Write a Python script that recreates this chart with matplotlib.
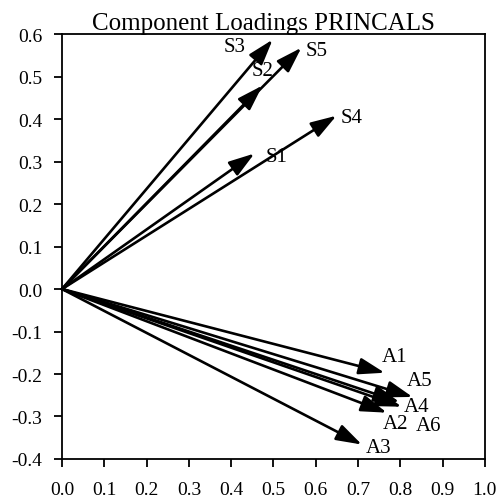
import numpy as np
import matplotlib.pyplot as plt

# component loadings (dimension 1, dimension 2)
names = ['S1', 'S2', 'S3', 'S4', 'S5', 'A1', 'A2', 'A3', 'A4', 'A5', 'A6']
dim1 = [0.455, 0.474, 0.498, 0.649, 0.566, 0.763, 0.768, 0.709, 0.803, 0.829, 0.798]
dim2 = [0.319, 0.479, 0.587, 0.408, 0.568, -0.197, -0.291, -0.366, -0.277, -0.254, -0.266]

xticks = np.round(np.arange(0.0, 1.01, 0.1), 1)
yticks = np.round(np.arange(-0.4, 0.61, 0.1), 1)

# label offsets from the arrow tip (points)
offsets = {'S1': (16, -2), 'S2': (0, 11), 'S3': (-27, -5), 'S4': (11, -1),
           'S5': (11, -2), 'A1': (7, 12), 'A2': (6, -8), 'A3': (12, -2),
           'A4': (11, 0), 'A5': (5, 12), 'A6': (21, -17)}

plt.rcParams['font.family'] = ['Liberation Serif', 'DejaVu Serif']

fig = plt.figure(figsize=(5.03, 5.02), dpi=100)
ax = fig.add_axes([0.1233, 0.0837, 0.8407, 0.8463])

for n, x, y in zip(names, dim1, dim2):
    ax.annotate('', xy=(x, y), xytext=(0, 0),
                arrowprops=dict(arrowstyle='-|>,head_length=1.3,head_width=0.42',
                                color='black', lw=1.9, shrinkA=0, shrinkB=0,
                                mutation_scale=12))
    dx, dy = offsets[n]
    ax.annotate(n, xy=(x, y), xytext=(dx, dy), textcoords='offset points',
                ha='center', va='center', fontsize=15)

ax.set_xlim(0, 1.0)
ax.set_ylim(-0.4, 0.6)
ax.set_xticks(xticks)
ax.set_yticks(yticks)
ax.set_xticklabels([f'{t:.1f}' for t in xticks])
ax.set_yticklabels([f'{t + 0.0:.1f}' if abs(t) > 1e-9 else '0.0' for t in yticks])
ax.tick_params(direction='out', length=6, width=1.3, labelsize=14)
ax.tick_params(axis='x', pad=10)
ax.tick_params(axis='y', pad=8)
for s in ax.spines.values():
    s.set_linewidth(1.3)
ax.set_title('Component Loadings PRINCALS', fontsize=18, pad=2, x=0.477)

plt.savefig('out.png', dpi=100)
